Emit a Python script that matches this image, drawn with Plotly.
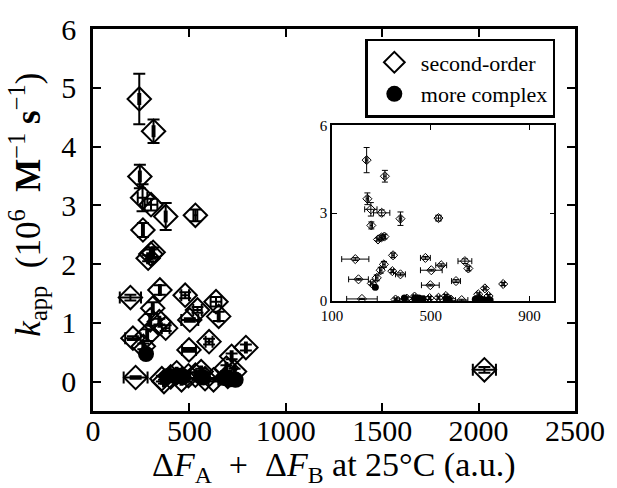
import plotly.graph_objects as go

# ---- data ----
so_x = [240, 314, 243, 257, 301, 377, 531, 259, 286, 300, 312, 194, 347, 478, 638, 652, 542, 310, 297, 344,
        377, 502, 207, 281, 261, 602, 498, 793, 719, 692, 221, 357, 368, 403, 434, 459, 495, 531, 561, 581,
        625, 699, 734, 2030]
so_y = [4.81, 4.26, 3.49, 3.13, 3.01, 2.81, 2.83, 2.58, 2.10, 2.17, 2.20, 1.43, 1.56, 1.47, 1.36, 1.11, 1.22, 1.25, 1.05, 1.02,
        0.91, 1.05, 0.74, 0.79, 0.60, 0.68, 0.54, 0.58, 0.43, 0.23, 0.07, 0.05, 0.00, 0.08, 0.15, 0.03, 0.10, 0.11, 0.17, 0.05,
        0.03, 0.09, 0.17, 0.20]
so_xerr = [5, 5, 5, 25, 33, 5, 10, 5, 5, 5, 5, 55, 5, 20, 28, 5, 22, 5, 5, 5,
           20, 44, 40, 5, 5, 18, 36, 5, 5, 5, 62, 5, 5, 5, 5, 5, 5, 5, 5, 5,
           25, 5, 5, 60]
so_yerr = [0.43, 0.20, 0.20, 0.23, 0.10, 0.23, 0.10, 0.12, 0.05, 0.08, 0.08, 0.05, 0.08, 0.05, 0.08, 0.08, 0.05, 0.10, 0.10, 0.05,
           0.05, 0.03, 0.03, 0.10, 0.05, 0.05, 0.03, 0.05, 0.05, 0.05, 0.02, 0.05, 0.03, 0.05, 0.05, 0.03, 0.05, 0.05, 0.05, 0.03,
           0.03, 0.05, 0.05, 0.05]

mc_x = [275, 393, 434, 451, 469, 561, 572, 680, 699, 714, 734, 740]
mc_y = [0.47, 0.10, 0.09, 0.10, 0.08, 0.08, 0.07, 0.06, 0.05, 0.04, 0.04, 0.03]
mc_xerr = [5, 5, 5, 5, 5, 5, 5, 5, 5, 5, 5, 5]
mc_yerr = [0.03, 0.03, 0.03, 0.03, 0.03, 0.03, 0.03, 0.03, 0.03, 0.03, 0.03, 0.03]

x_ticks = [0, 500, 1000, 1500, 2000, 2500]
y_ticks = [0, 1, 2, 3, 4, 5, 6]
inset_x_ticks = [100, 500, 900]
inset_y_ticks = [0, 3, 6]

FONT = "Liberation Serif"

fig = go.Figure()

# main panel
fig.add_trace(go.Scatter(
    x=so_x, y=so_y, mode="markers", name="second-order",
    marker=dict(symbol="diamond-open", size=18, color="black", line=dict(width=2, color="black")),
    error_x=dict(type="data", array=so_xerr, color="black", thickness=2, width=6),
    error_y=dict(type="data", array=so_yerr, color="black", thickness=2, width=6),
    xaxis="x", yaxis="y"))
fig.add_trace(go.Scatter(
    x=mc_x, y=mc_y, mode="markers", name="more complex",
    marker=dict(symbol="circle", size=16, color="black", line=dict(width=0)),
    error_x=dict(type="data", array=mc_xerr, color="black", thickness=2, width=6),
    error_y=dict(type="data", array=mc_yerr, color="black", thickness=2, width=6),
    xaxis="x", yaxis="y"))

# inset panel
fig.add_trace(go.Scatter(
    x=so_x, y=so_y, mode="markers", showlegend=False,
    marker=dict(symbol="diamond-open", size=7, color="black", line=dict(width=1, color="black")),
    error_x=dict(type="data", array=so_xerr, color="black", thickness=1, width=3),
    error_y=dict(type="data", array=so_yerr, color="black", thickness=1, width=3),
    xaxis="x2", yaxis="y2"))
fig.add_trace(go.Scatter(
    x=mc_x, y=mc_y, mode="markers", showlegend=False,
    marker=dict(symbol="circle", size=7, color="black", line=dict(width=0)),
    error_x=dict(type="data", array=mc_xerr, color="black", thickness=1, width=3),
    error_y=dict(type="data", array=mc_yerr, color="black", thickness=1, width=3),
    xaxis="x2", yaxis="y2"))

axis_common = dict(showgrid=False, zeroline=False, showline=True, linecolor="black",
                   mirror="allticks", ticks="inside", tickcolor="black")

x_title = "Δ<i>F</i><sub>A</sub>  +  Δ<i>F</i><sub>B</sub> at 25°C (a.u.)"
y_title = "<i>k</i><sub>app</sub>  (10<sup>6</sup>  <b>M</b><sup>−1</sup> <b>s</b><sup>−1</sup>)"

fig.update_layout(
    width=617, height=488,
    margin=dict(l=93, r=34, t=26, b=77),
    paper_bgcolor="white", plot_bgcolor="white",
    font=dict(family=FONT, color="black", size=30),
    xaxis=dict(**axis_common, domain=[0, 1], range=[0, 2500], tickvals=x_ticks,
               linewidth=2.5, ticklen=8, tickwidth=2, tickfont=dict(size=30), ticklabelstandoff=-9),
    yaxis=dict(**axis_common, domain=[0, 1], range=[-0.5, 6], tickvals=y_ticks,
               linewidth=2.5, ticklen=8, tickwidth=2, tickfont=dict(size=30), ticklabelstandoff=8),
    xaxis2=dict(**axis_common, domain=[0.496, 0.957], anchor="y2", range=[100, 1000],
                tickvals=inset_x_ticks, linewidth=1.5, ticklen=5, tickwidth=1, tickfont=dict(size=15)),
    yaxis2=dict(**axis_common, domain=[0.288, 0.748], anchor="x2", range=[0, 6],
                tickvals=inset_y_ticks, linewidth=1.5, ticklen=5, tickwidth=1, tickfont=dict(size=15)),
    legend=dict(x=0.565, y=0.974, xanchor="left", yanchor="top", bgcolor="white",
                bordercolor="black", borderwidth=2.5, font=dict(size=22, family=FONT),
                itemwidth=43, tracegroupgap=0),
    showlegend=True,
    annotations=[
        dict(text=x_title, xref="paper", yref="paper", x=0.5, y=-0.147,
             xanchor="center", yanchor="middle", showarrow=False, font=dict(size=34)),
        dict(text=y_title, xref="paper", yref="paper", x=-0.135, y=0.54, textangle=-90,
             xanchor="center", yanchor="middle", showarrow=False, font=dict(size=35)),
    ],
)

fig.write_html("out.html")
